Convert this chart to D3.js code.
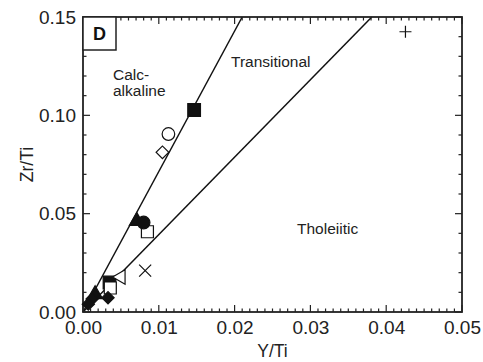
<!DOCTYPE html>
<html><head><meta charset="utf-8">
<script src="https://cdn.jsdelivr.net/npm/d3@7"></script>
<style>html,body{margin:0;padding:0;background:#fff;} svg{display:block;}</style>
</head><body>
<svg id="chart" width="483" height="362"></svg>
<script>
// ---- data ----
const xTicks = [0, 0.01, 0.02, 0.03, 0.04, 0.05];
const yTicks = [0, 0.05, 0.10, 0.15];
const boundaryCalc = [[0, 0], [0.021, 0.15]];
const boundaryThol = [[0, 0], [0.0381, 0.15]];
const openSquare = [[0.0085, 0.0408], [0.0036, 0.0122]];
const filledSquare = [[0.01466, 0.1027], [0.0035, 0.0150]];
const openCircle = [[0.01127, 0.0905]];
const openDiamond = [[0.01048, 0.0812]];
const filledTriangle = [[0.0071, 0.0462], [0.0016, 0.0090]];
const filledCircle = [[0.0080, 0.0455]];
const crossPts = [[0.0082, 0.0210]];
const openTriangleLeft = [[0.0050, 0.0178]];
const filledDiamond = [[0.0033, 0.0072], [0.0012, 0.0066], [0.0007, 0.0040]];
const plusPts = [[0.04254, 0.1425]];

const svg = d3.select('#chart');
const m = {l: 83, t: 17, r: 21, b: 50};
const W = 483 - m.l - m.r, H = 362 - m.t - m.b;
const x = d3.scaleLinear().domain([0, 0.05]).range([m.l, m.l + W]);
const y = d3.scaleLinear().domain([0, 0.15]).range([m.t + H, m.t]);
const font = 'Liberation Sans, Arial, Helvetica, sans-serif';

const g = svg.append('g');
// boundary lines
const line = d3.line().x(d => x(d[0])).y(d => y(d[1]));
[boundaryCalc, boundaryThol].forEach(b => {
  g.append('path').attr('d', line(b)).attr('fill', 'none').attr('stroke', '#111').attr('stroke-width', 1.5);
});

// ticks (inward)
const xMinor = d3.range(0, 0.0501, 0.001);
const yMinor = d3.range(0, 0.1501, 0.01);
const isMajor = (v, step) => Math.abs(v / step - Math.round(v / step)) < 1e-6;
const tk = svg.append('g').attr('stroke', '#222').attr('stroke-width', 1.2);
xMinor.forEach(v => {
  const L = isMajor(v, 0.01) ? 7 : 3.5;
  tk.append('line').attr('x1', x(v)).attr('x2', x(v)).attr('y1', y(0)).attr('y2', y(0) - L);
  tk.append('line').attr('x1', x(v)).attr('x2', x(v)).attr('y1', y(0.15)).attr('y2', y(0.15) + L);
});
yMinor.forEach(v => {
  const L = isMajor(v, 0.05) ? 7 : 3.5;
  tk.append('line').attr('y1', y(v)).attr('y2', y(v)).attr('x1', x(0)).attr('x2', x(0) + L);
  tk.append('line').attr('y1', y(v)).attr('y2', y(v)).attr('x1', x(0.05)).attr('x2', x(0.05) - L);
});

// axes labels via d3 axes (labels only)
const xAxis = d3.axisBottom(x).tickValues(xTicks).tickFormat(d3.format('.2f')).tickSize(0).tickPadding(9);
svg.append('g').attr('transform', `translate(0,${y(0)})`).call(xAxis)
  .call(a => a.select('.domain').remove())
  .selectAll('text').attr('font-family', font).attr('font-size', 19).attr('fill', '#222');
const yAxis = d3.axisLeft(y).tickValues(yTicks).tickFormat(d3.format('.2f')).tickSize(0).tickPadding(7);
svg.append('g').attr('transform', `translate(${x(0)},0)`).call(yAxis)
  .call(a => a.select('.domain').remove())
  .selectAll('text').attr('font-family', font).attr('font-size', 19).attr('fill', '#222');

// frame
svg.append('rect').attr('x', x(0)).attr('y', y(0.15)).attr('width', W).attr('height', H)
  .attr('fill', 'none').attr('stroke', '#222').attr('stroke-width', 1.8);

// panel letter box
svg.append('rect').attr('x', x(0)).attr('y', y(0.15)).attr('width', 33).attr('height', 33)
  .attr('fill', '#fff').attr('stroke', '#222').attr('stroke-width', 1.5);
svg.append('text').attr('x', x(0) + 16.5).attr('y', y(0.15) + 23).attr('text-anchor', 'middle')
  .attr('font-family', font).attr('font-weight', 'bold').attr('font-size', 18).attr('fill', '#111').text('D');

// region labels
const lab = (t, px, py) => svg.append('text').attr('x', px).attr('y', py).attr('font-family', font)
  .attr('font-size', 15.5).attr('fill', '#222').text(t);
lab('Calc-', 113, 80);
lab('alkaline', 113, 96);
lab('Transitional', 231, 67);
lab('Tholeiitic', 297, 234);

// axis titles
svg.append('text').attr('x', x(0.025)).attr('y', 357).attr('text-anchor', 'middle')
  .attr('font-family', font).attr('font-size', 17.5).attr('fill', '#222').text('Y/Ti');
svg.append('text').attr('transform', `translate(33,${y(0.075)}) rotate(-90)`).attr('text-anchor', 'middle')
  .attr('font-family', font).attr('font-size', 17.5).attr('fill', '#222').text('Zr/Ti');

// symbols
const S = 13;
const sym = (type, size) => d3.symbol().type(type).size(size);
const pts = svg.append('g');
function draw(data, type, size, filled, rot) {
  pts.selectAll(null).data(data).enter().append('path')
    .attr('d', sym(type, size)())
    .attr('transform', d => `translate(${x(d[0])},${y(d[1])})` + (rot ? ` rotate(${rot})` : ''))
    .attr('fill', filled ? '#111' : '#fff').attr('stroke', '#111').attr('stroke-width', 1.2);
}
draw(filledSquare, d3.symbolSquare, S * S * 0.95, true);
draw(openSquare, d3.symbolSquare, 12 * 12, false);
draw(filledTriangle, d3.symbolTriangle, 95, true);
draw(filledCircle, d3.symbolCircle, 125, true);
draw(openCircle, d3.symbolCircle, 125, false);
draw(openDiamond, d3.symbolSquare, 80, false, 45);
draw(filledDiamond, d3.symbolSquare, 75, true, 45);
draw(openTriangleLeft, d3.symbolTriangle, 90, false, -90);
pts.selectAll(null).data(crossPts).enter().append('path')
  .attr('d', 'M-6,-6L6,6M-6,6L6,-6')
  .attr('transform', d => `translate(${x(d[0])},${y(d[1])})`)
  .attr('fill', 'none').attr('stroke', '#111').attr('stroke-width', 1.2);
pts.selectAll(null).data(plusPts).enter().append('path')
  .attr('d', 'M-6,0L6,0M0,-6L0,6')
  .attr('transform', d => `translate(${x(d[0])},${y(d[1])})`)
  .attr('fill', 'none').attr('stroke', '#111').attr('stroke-width', 1.2);
</script>
</body></html>
